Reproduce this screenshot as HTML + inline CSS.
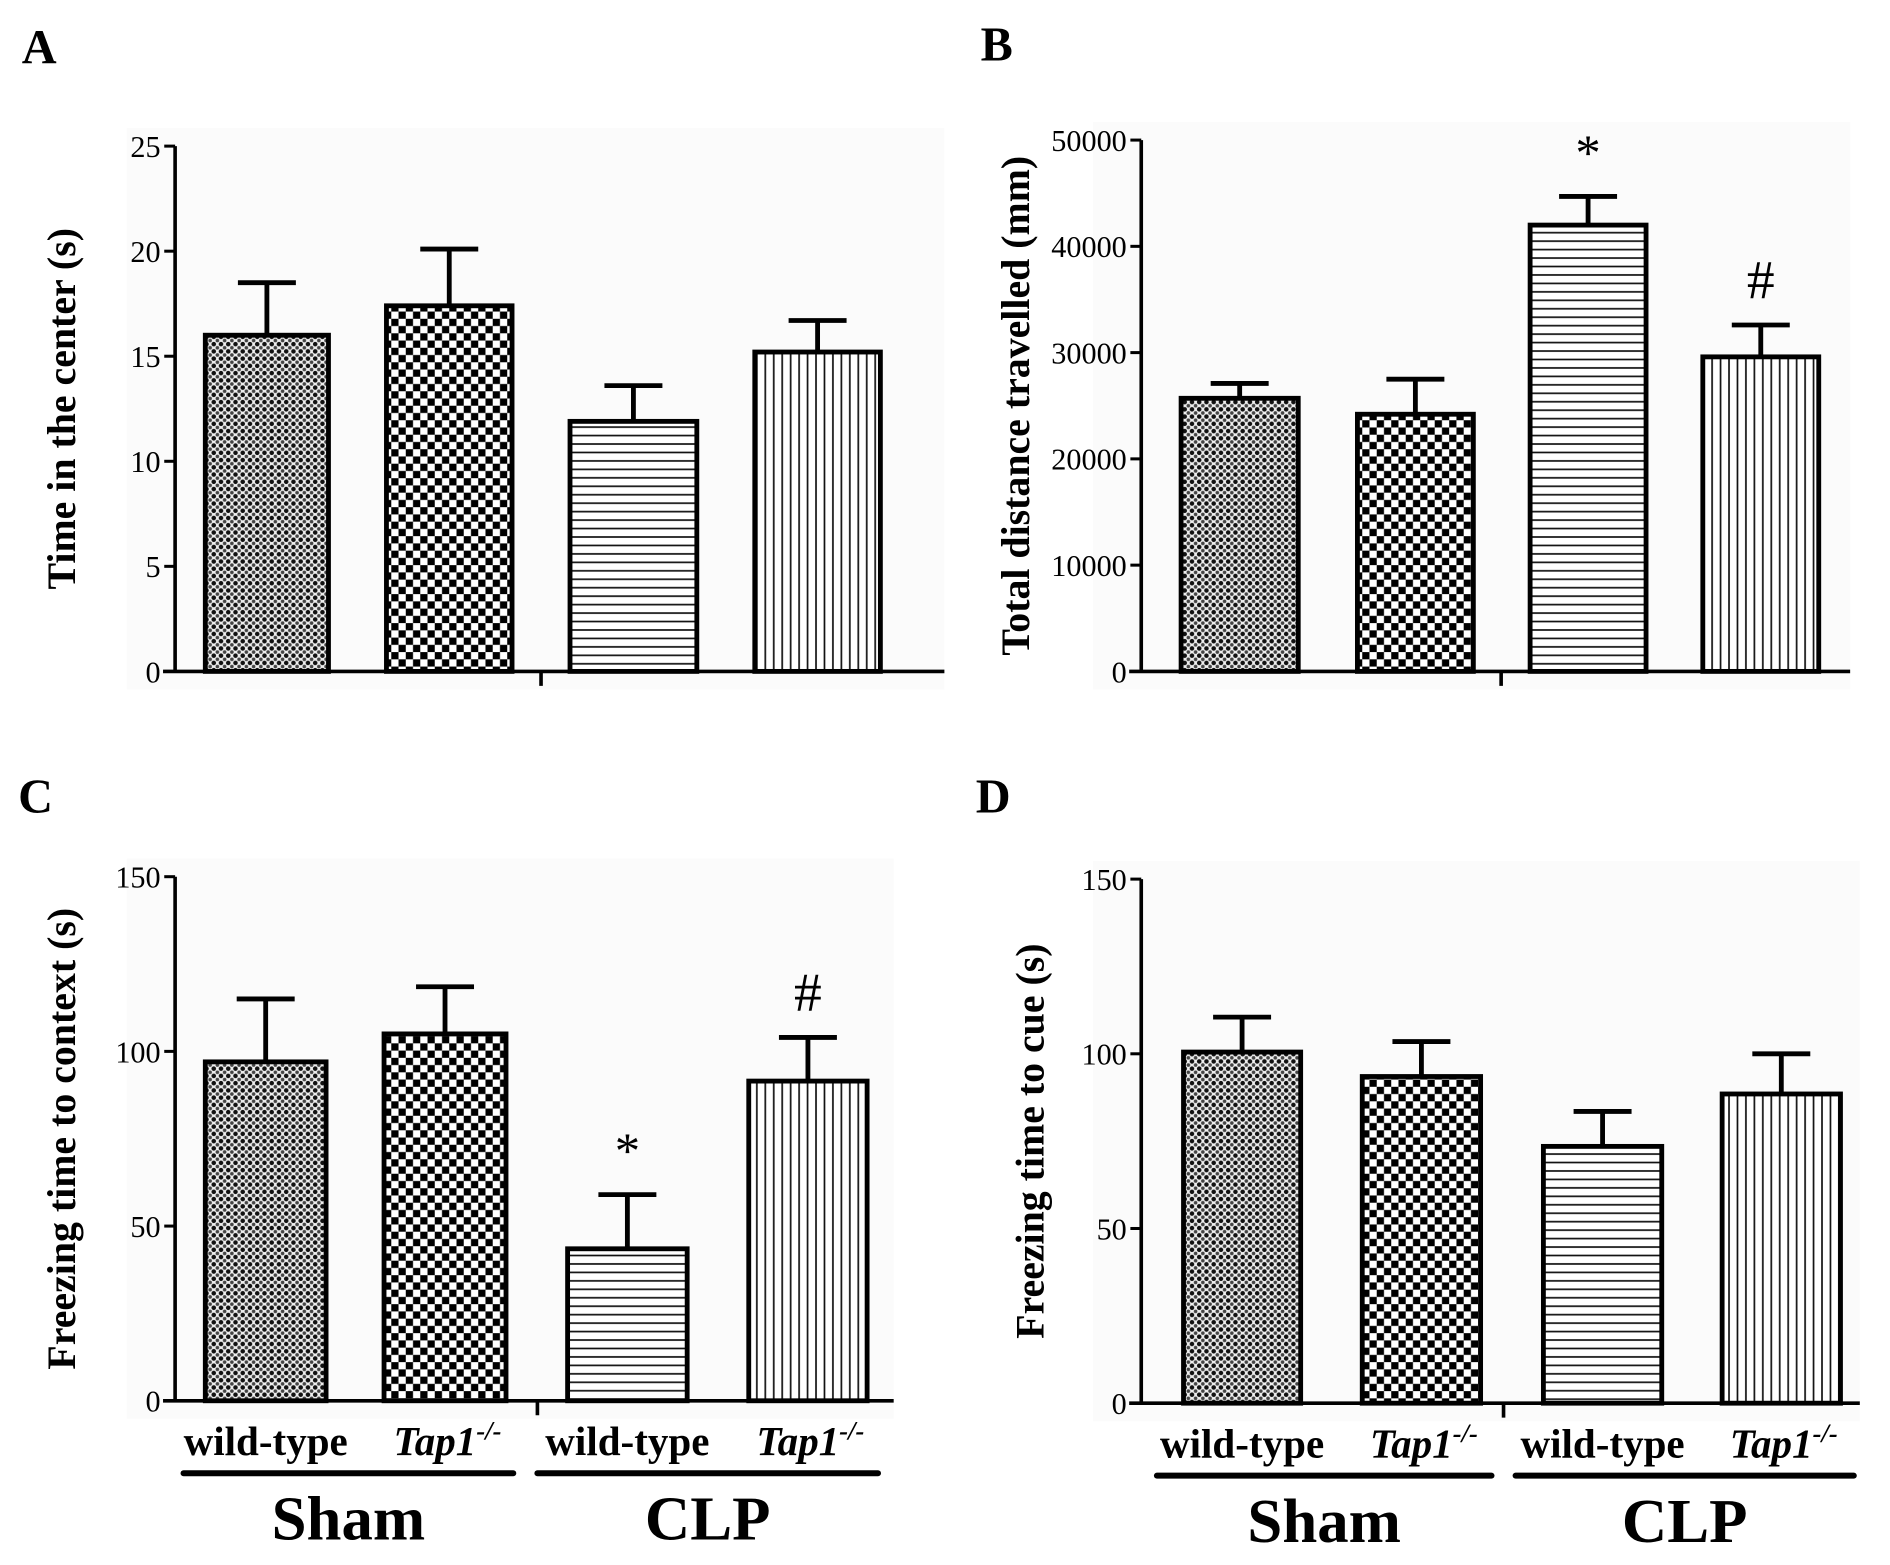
<!DOCTYPE html>
<html><head><meta charset="utf-8"><style>
html,body{margin:0;padding:0;background:#fff;}
svg{display:block;}
text{font-family:"Liberation Serif",serif;}
</style></head><body>
<svg id="fig" width="1890" height="1565" viewBox="0 0 1565 1296" preserveAspectRatio="none" xmlns="http://www.w3.org/2000/svg">
<defs>
<pattern id="pDots" width="6" height="6" patternUnits="userSpaceOnUse"><rect width="6" height="6" fill="#eee"/><circle cx="3" cy="3" r="1.9" fill="#111"/><circle cx="0" cy="0" r="1.5" fill="#444"/><circle cx="6" cy="0" r="1.5" fill="#444"/><circle cx="0" cy="6" r="1.5" fill="#444"/><circle cx="6" cy="6" r="1.5" fill="#444"/></pattern>
<pattern id="pCheck" width="12" height="12" patternUnits="userSpaceOnUse"><rect width="12" height="12" fill="#fff"/><rect width="6" height="6" fill="#000"/><rect x="6" y="6" width="6" height="6" fill="#000"/></pattern>
<pattern id="pHor" width="8" height="7" patternUnits="userSpaceOnUse"><rect width="8" height="7" fill="#fff"/><rect y="3" width="8" height="1.4" fill="#111"/></pattern>
<pattern id="pVer" width="7" height="8" patternUnits="userSpaceOnUse"><rect width="7" height="8" fill="#fff"/><rect x="3" width="1.4" height="8" fill="#111"/></pattern>
</defs>
</svg>
<script>
// Panel A data
const aValues=[16,17.4,11.9,15.2];
const aErrors=[2.5,2.7,1.7,1.5];
const aTicks=[0,5,10,15,20,25];
// Panel B data
const bValues=[25700,24200,42000,29600];
const bErrors=[1400,3300,2700,3000];
const bTicks=[0,10000,20000,30000,40000,50000];
const bMarks=["","","*","#"];
// Panel C data
const cValues=[97,105,43.5,91.5];
const cErrors=[18,13.5,15.5,12.5];
const cTicks=[0,50,100,150];
const cMarks=["","","*","#"];
// Panel D data
const dValues=[100.5,93.5,73.5,88.5];
const dErrors=[10,10,10,11.5];
const dTicks=[0,50,100,150];
const categories=["wild-type","Tap1","wild-type","Tap1"];
const groups=["Sham","CLP"];
const fills=["url(#pDots)","url(#pCheck)","url(#pHor)","url(#pVer)"];

const svg=document.getElementById('fig');
const NS="http://www.w3.org/2000/svg";
function mk(tag,attrs,parent){const e=document.createElementNS(NS,tag);for(const k in attrs)e.setAttribute(k,attrs[k]);(parent||svg).appendChild(e);return e;}

function panel(cfg){
  const g=mk('g',{});
  
  
  const ymax=cfg.ticks[cfg.ticks.length-1];
  const y=v=>cfg.y0-(v/ymax)*(cfg.y0-cfg.yTop);
  const bg=mk('rect',{x:cfg.axX-40,y:cfg.yTop-15,width:cfg.axEnd-cfg.axX+40,height:cfg.y0-cfg.yTop+30,fill:'#fbfbfb'},g);
  
  
  const lt=mk('text',{x:cfg.lx,y:cfg.ly,'font-size':40,'font-weight':'bold'},g);lt.textContent=cfg.id.toUpperCase();
  
  
  cfg.values.forEach((v,i)=>{
    const [x0,x1]=cfg.bars[i];const cx=(x0+x1)/2;const top=y(v+cfg.errors[i]);
    const e=mk('path',{d:`M${cx} ${y(v)} V${top} M${cx-24} ${top} H${cx+24}`,stroke:'#000','stroke-width':4,fill:'none'},g);
    
    
    const r=mk('rect',{x:x0,y:y(v),width:x1-x0,height:cfg.y0-y(v),fill:fills[i],stroke:'#000','stroke-width':4},g);
    
    
    if(cfg.marks&&cfg.marks[i]){const m=mk('text',{x:cx,y:top-22,'font-size':cfg.marks[i]=='*'?42:46,'text-anchor':'middle'},g);m.textContent=cfg.marks[i];
      
      }
  });
  const ax=mk('path',{d:`M${cfg.axX} ${cfg.yTop} V${cfg.y0} M${cfg.axX-10} ${cfg.y0} H${cfg.axEnd} M${cfg.mid} ${cfg.y0} V${cfg.y0+12}`,stroke:'#000','stroke-width':3,fill:'none'},g);
  
  
  cfg.ticks.forEach(t=>{
    mk('line',{x1:cfg.axX-9,x2:cfg.axX,y1:y(t),y2:y(t),stroke:'#000','stroke-width':2.5},g);
    const tx=mk('text',{x:cfg.axX-12,y:y(t)+9,'font-size':25,'text-anchor':'end'},g);tx.textContent=t;
    
    
  });
  const yt=mk('text',{transform:`translate(${cfg.titleX},${(cfg.y0+cfg.yTop)/2}) rotate(-90)`,'font-size':33,'font-weight':'bold','text-anchor':'middle'},g);
  yt.textContent=cfg.title;
  
  
  if(cfg.cat){
    cfg.bars.forEach((b,i)=>{
      const cx=(b[0]+b[1])/2;
      const t=mk('text',{x:cx+(i%2?2:0),y:cfg.y0+45,'font-size':34,'font-weight':'bold','text-anchor':'middle'},g);
      if(i%2){t.setAttribute('font-style','italic');t.textContent='Tap1';const s=mk('tspan',{dy:-13,'font-size':22},t);s.textContent='-/-';}
      else t.textContent=categories[i];
      
      
    });
    cfg.lines.forEach((l,j)=>{
      const ln=mk('line',{x1:l[0],x2:l[1],y1:cfg.y0+60,y2:cfg.y0+60,stroke:'#000','stroke-width':5,'stroke-linecap':'round'},g);
      
      
      const gt=mk('text',{x:(l[0]+l[1])/2,y:cfg.y0+115,'font-size':52,'font-weight':'bold','text-anchor':'middle'},g);gt.textContent=groups[j];
      
      
    });
  }
}
panel({id:'a',values:aValues,errors:aErrors,ticks:aTicks,y0:556,yTop:121,axX:145,axEnd:782,mid:448,
  bars:[[170,272],[320,424],[472,577],[625,729]],lx:18,ly:52,titleX:62,title:'Time in the center (s)'});
panel({id:'b',values:bValues,errors:bErrors,ticks:bTicks,marks:bMarks,y0:556,yTop:116,axX:945,axEnd:1532,mid:1243,
  bars:[[978,1075],[1124,1220],[1267,1363],[1410,1506]],lx:812,ly:50,titleX:852,title:'Total distance travelled (mm)'});
panel({id:'c',values:cValues,errors:cErrors,ticks:cTicks,marks:cMarks,y0:1160,yTop:726,axX:145,axEnd:740,mid:445,
  bars:[[170,270],[318,419],[470,569],[620,718]],lx:15,ly:673,titleX:62,title:'Freezing time to context (s)',cat:true,lines:[[152,425],[445,727]]});
panel({id:'d',values:dValues,errors:dErrors,ticks:dTicks,y0:1162,yTop:728,axX:945,axEnd:1540,mid:1245,
  bars:[[980,1077],[1128,1226],[1278,1376],[1426,1524]],lx:808,ly:673,titleX:864,title:'Freezing time to cue (s)',cat:true,lines:[[958,1235],[1255,1535]]});
</script>
</body></html>
